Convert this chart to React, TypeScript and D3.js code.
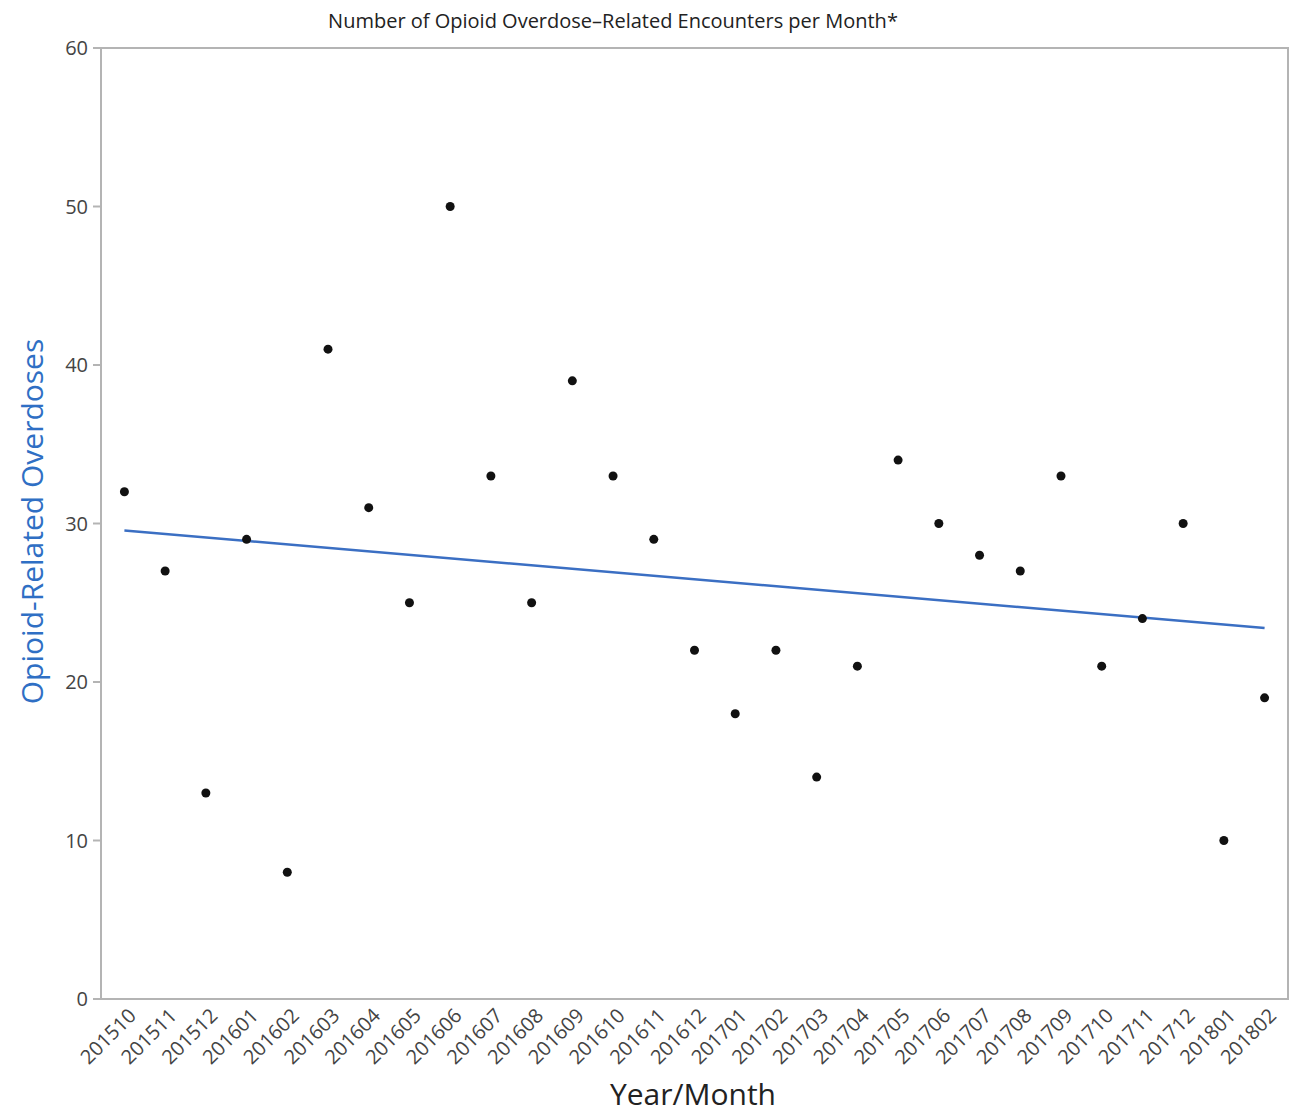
import React, { useEffect, useRef } from "react";
import * as d3 from "d3";

const months = [
  "201510", "201511", "201512", "201601", "201602", "201603", "201604", "201605",
  "201606", "201607", "201608", "201609", "201610", "201611", "201612", "201701",
  "201702", "201703", "201704", "201705", "201706", "201707", "201708", "201709",
  "201710", "201711", "201712", "201801", "201802",
];
const overdoses = [
  32, 27, 13, 29, 8, 41, 31, 25, 50, 33, 25, 39, 33, 29, 22, 18,
  22, 14, 21, 34, 30, 28, 27, 33, 21, 24, 30, 10, 19,
];
const yTicks = [0, 10, 20, 30, 40, 50, 60];

const FONT = "'Open Sans', 'Noto Sans', sans-serif";

export default function App() {
  const ref = useRef<SVGSVGElement>(null);

  useEffect(() => {
    const left = 101, right = 1288, top = 48, bottom = 999;

    const svg = d3.select(ref.current);
    svg.selectAll("*").remove();

    const x = d3.scalePoint<string>().domain(months).range([left, right]).padding(0.575);
    const y = d3.scaleLinear().domain([0, 60]).range([bottom, top]);

    // frame
    svg.append("rect")
      .attr("x", left).attr("y", top)
      .attr("width", right - left).attr("height", bottom - top)
      .attr("fill", "none").attr("stroke", "#b4b4b4").attr("stroke-width", 2);

    // y ticks
    const yt = svg.append("g").attr("font-family", FONT).attr("font-size", 20).attr("fill", "#444");
    yTicks.forEach(t => {
      yt.append("line")
        .attr("x1", left - 8).attr("x2", left)
        .attr("y1", y(t)).attr("y2", y(t))
        .attr("stroke", "#b4b4b4").attr("stroke-width", 2);
      yt.append("text")
        .attr("x", left - 13).attr("y", y(t)).attr("dy", "0.35em")
        .attr("text-anchor", "end").text(t);
    });

    // x tick labels
    const xt = svg.append("g").attr("font-family", FONT).attr("font-size", 20).attr("fill", "#444");
    months.forEach(m => {
      xt.append("text")
        .attr("transform", `translate(${x(m)! + 8},${bottom + 13}) rotate(-45)`)
        .attr("text-anchor", "end").attr("dy", "0.35em")
        .text(m);
    });

    // trend line (least squares)
    const idx = months.map((_, i) => i);
    const mx = d3.mean(idx)!;
    const my = d3.mean(overdoses)!;
    const slope = d3.sum(idx, i => (i - mx) * (overdoses[i] - my)) / d3.sum(idx, i => (i - mx) ** 2);
    const fit = (i: number) => my + slope * (i - mx);
    svg.append("line")
      .attr("x1", x(months[0])!).attr("y1", y(fit(0)))
      .attr("x2", x(months[months.length - 1])!).attr("y2", y(fit(months.length - 1)))
      .attr("stroke", "#3b6fc3").attr("stroke-width", 2.5);

    // points
    svg.append("g").selectAll("circle")
      .data(overdoses)
      .join("circle")
      .attr("cx", (_, i) => x(months[i])!)
      .attr("cy", d => y(d))
      .attr("r", 4.5)
      .attr("fill", "#111");

    // titles
    svg.append("text")
      .attr("x", 613).attr("y", 28)
      .attr("text-anchor", "middle")
      .attr("font-family", FONT).attr("font-size", 20).attr("fill", "#222")
      .text("Number of Opioid Overdose\u2013Related Encounters per Month*");

    svg.append("text")
      .attr("transform", `translate(32,${(335 + 708) / 2}) rotate(-90)`)
      .attr("text-anchor", "middle").attr("dy", "0.35em")
      .attr("font-family", FONT).attr("font-size", 30).attr("fill", "#2f6fc4")
      .text("Opioid-Related Overdoses");

    svg.append("text")
      .attr("x", 693).attr("y", 1105)
      .attr("text-anchor", "middle")
      .attr("font-family", FONT).attr("font-size", 30).attr("fill", "#222")
      .text("Year/Month");
  }, []);

  return (
    <svg
      ref={ref}
      width={1293}
      height={1115}
      style={{ position: "fixed", top: 0, left: 0, display: "block", background: "#fff" }}
    />
  );
}
